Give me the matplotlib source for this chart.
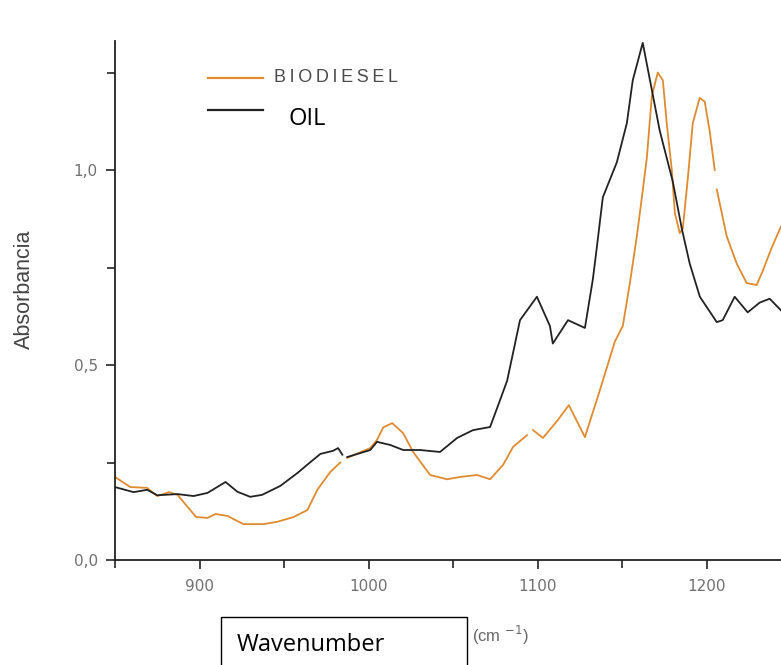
import numpy as np
import matplotlib
matplotlib.use('Agg')
import matplotlib.pyplot as plt
from matplotlib.lines import Line2D
from matplotlib.patches import Rectangle
from matplotlib.ticker import MultipleLocator, FuncFormatter

# 油 (OIL) 光谱，读自原图
oil_wn = [850, 861, 869, 875, 887, 896.5, 904.7, 915.4, 922.4, 930, 937, 947.8,
          957.9, 965.6, 971.5, 979, 982, 984.5, 985.5, 987.4, 1001, 1005, 1012.8,
          1020.5, 1030.5, 1042.3, 1052.4, 1061.8, 1071.9, 1077.8, 1082, 1089.6,
          1099.6, 1107.3, 1109, 1118, 1128, 1132.7, 1135, 1138.6, 1146.9, 1152.8,
          1156.3, 1162.2, 1172.3, 1180, 1185.3, 1190, 1196, 1206, 1209.5, 1216.6,
          1224.3, 1231.4, 1237.3, 1244]
oil_abs = [0.187, 0.174, 0.18, 0.166, 0.169, 0.164, 0.172, 0.2, 0.175, 0.162, 0.167,
           0.19, 0.223, 0.251, 0.272, 0.28, 0.287, 0.27, np.nan, 0.264, 0.282, 0.303,
           0.295, 0.282, 0.282, 0.277, 0.313, 0.333, 0.341, 0.41, 0.46, 0.615,
           0.675, 0.60, 0.555, 0.615, 0.595, 0.72, 0.80, 0.93, 1.02, 1.12,
           1.23, 1.326, 1.10, 0.97, 0.85, 0.76, 0.675, 0.61, 0.615, 0.675,
           0.635, 0.66, 0.67, 0.64]

# 生物柴油 (BIODIESEL) 光谱
bio_wn = [850, 859, 869, 875, 882, 887, 898, 904.7, 909.5, 916.5, 926, 937.8, 946,
          955.5, 963.8, 969.7, 977.4, 983.3, 985.5, 987.4, 1001, 1005, 1008.7, 1014,
          1020.5, 1026.4, 1036.4, 1046.5, 1054.2, 1064.2, 1071.9, 1079.6, 1085.5,
          1093.7, 1095.5, 1097.3, 1103.2, 1112, 1118.5, 1128, 1136.9, 1145.7,
          1150.4, 1154.6, 1158.7, 1161.7, 1164.6, 1167.6, 1171.1, 1174.1, 1176.4,
          1179.4, 1181.2, 1184.1, 1185.9, 1188.8, 1191.8, 1195.9, 1198.9, 1201.8,
          1204.8, 1205.4, 1206, 1211.9, 1217.8, 1223.7, 1229.6, 1233.1, 1238.4, 1244]
bio_abs = [0.213, 0.187, 0.185, 0.164, 0.174, 0.167, 0.11, 0.108, 0.118, 0.113,
           0.092, 0.092, 0.098, 0.11, 0.128, 0.18, 0.226, 0.25, np.nan, 0.262,
           0.287, 0.308, 0.34, 0.351, 0.325, 0.277, 0.218, 0.207, 0.213, 0.218,
           0.207, 0.244, 0.29, 0.32, np.nan, 0.333, 0.313, 0.359, 0.397, 0.315,
           0.436, 0.56, 0.60, 0.71, 0.83, 0.93, 1.03, 1.19, 1.25, 1.23, 1.12,
           1.0, 0.89, 0.838, 0.85, 0.975, 1.12, 1.185, 1.175, 1.10, 1.0, np.nan,
           0.95, 0.83, 0.76, 0.71, 0.705, 0.74, 0.80, 0.855]

plt.rcParams['font.family'] = ['Liberation Sans', 'DejaVu Sans']

fig = plt.figure(figsize=(7.81, 6.65), dpi=100)
ax = fig.add_axes([115 / 781, 1 - 560 / 665, 666 / 781, (560 - 41.3) / 665])

ax.plot(bio_wn, bio_abs, color='#E08A30', linewidth=1.3)
ax.plot(oil_wn, oil_abs, color='#222222', linewidth=1.3)

ax.set_xlim(850, 1244)
ax.set_ylim(0, 1.33)

for s in ['top', 'right']:
    ax.spines[s].set_visible(False)
for s in ['left', 'bottom']:
    ax.spines[s].set_linewidth(1.3)
    ax.spines[s].set_color('#222222')

ax.xaxis.set_major_locator(MultipleLocator(100))
ax.xaxis.set_minor_locator(MultipleLocator(50))
ax.yaxis.set_major_locator(MultipleLocator(0.5))
ax.yaxis.set_minor_locator(MultipleLocator(0.25))
ax.yaxis.set_major_formatter(FuncFormatter(lambda v, p: f'{v:.1f}'.replace('.', ',')))
ax.tick_params(which='both', direction='out', color='#222222', width=1.2)
ax.tick_params(which='major', length=6.5, labelsize=11, labelcolor='#707070')
ax.tick_params(which='minor', length=5.5)
ax.tick_params(axis='x', which='major', pad=7)
ax.tick_params(axis='y', which='major', pad=6)
for lab in ax.get_xticklabels() + ax.get_yticklabels():
    lab.set_family(['DejaVu Sans'])

ax.set_ylabel('Absorbancia', fontsize=15.5, color='#444444')
ax.yaxis.label.set_verticalalignment('center')
ax.yaxis.set_label_coords(-91 / 666, (560 - 289) / 518.7)

# 图例（手动绘制）
fig.add_artist(Line2D([208 / 781, 263 / 781], [1 - 78 / 665, 1 - 78 / 665],
                      color='#E08A30', linewidth=1.6))
fig.add_artist(Line2D([208 / 781, 263 / 781], [1 - 110 / 665, 1 - 110 / 665],
                      color='#222222', linewidth=1.6))
fig.text(274 / 781, 1 - 77 / 665, 'B\u2009I\u2009O\u2009D\u2009I\u2009E\u2009S\u2009E\u2009L',
         fontsize=13, color='#4a4a4a', va='center', ha='left',
         family=['Liberation Sans', 'DejaVu Sans'])
fig.text(289 / 781, 1 - 119 / 665, 'OIL', fontsize=17, color='black',
         va='center', ha='left', family=['Open Sans', 'DejaVu Sans'])

# 横轴标题框
fig.add_artist(Rectangle((221 / 781, 1 - 680 / 665), 246 / 781, 63 / 665,
                         facecolor='white', edgecolor='black', linewidth=1.0))
fig.text(237 / 781, 1 - 645 / 665, 'Wavenumber', fontsize=17, color='black',
         va='center', ha='left', family=['Open Sans', 'DejaVu Sans'])
fig.text(472 / 781, 1 - 635 / 665, '(cm $^{-1}$)', fontsize=12, color='#666666',
         va='center', ha='left')

fig.savefig('out.png', dpi=100)
